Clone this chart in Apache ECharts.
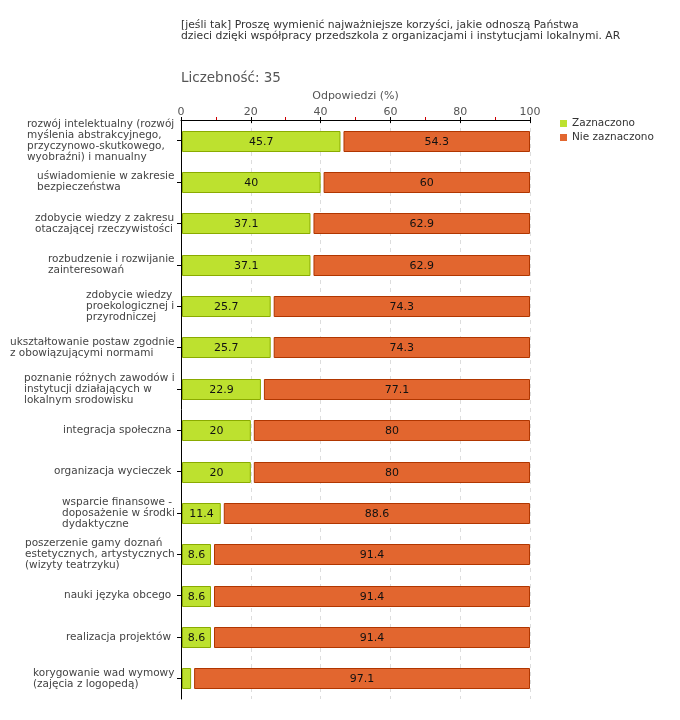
<!DOCTYPE html>
<html><head><meta charset="utf-8">
<script src="https://cdn.jsdelivr.net/npm/echarts@6/dist/echarts.min.js"></script>
<style>html,body{margin:0;padding:0;background:#fff}#c{width:680px;height:720px}</style>
</head><body><div id="c"></div>
<script>
var categories = [
  "rozwój intelektualny (rozwój\nmyślenia abstrakcyjnego,\nprzyczynowo-skutkowego,\nwyobraźni) i manualny",
  "uświadomienie w zakresie\nbezpieczeństwa",
  "zdobycie wiedzy z zakresu\notaczającej rzeczywistości",
  "rozbudzenie i rozwijanie\nzainteresowań",
  "zdobycie wiedzy\nproekologicznej i\nprzyrodniczej",
  "ukształtowanie postaw zgodnie\nz obowiązującymi normami",
  "poznanie różnych zawodów i\ninstytucji działających w\nlokalnym srodowisku",
  "integracja społeczna ",
  "organizacja wycieczek ",
  "wsparcie finansowe -\ndoposażenie w środki\ndydaktyczne",
  "poszerzenie gamy doznań\nestetycznych, artystycznych\n(wizyty teatrzyku)",
  "nauki języka obcego ",
  "realizacja projektów ",
  "korygowanie wad wymowy\n(zajęcia z logopedą)"
];
var zaznaczono = [45.7, 40, 37.1, 37.1, 25.7, 25.7, 22.9, 20, 20, 11.4, 8.6, 8.6, 8.6, 2.9];
var nieZaznaczono = [54.3, 60, 62.9, 62.9, 74.3, 74.3, 77.1, 80, 80, 88.6, 91.4, 91.4, 91.4, 97.1];
var xTicks = [0, 20, 40, 60, 80, 100];
var seriesNames = ["Zaznaczono", "Nie zaznaczono"];

var FONT = "DejaVu Sans";
var CAT_FS = 10.5;
var colors = [{fill: "#bde12f", stroke: "#8aab00"}, {fill: "#e2662f", stroke: "#b03600"}];

var greenData = zaznaczono.map(function(v, i){ return [i, 0, v]; });
var orangeData = nieZaznaczono.map(function(v, i){ return [i, zaznaczono[i], zaznaczono[i] + v]; });

// rich styles: each label block right-aligned at the axis, its lines left-aligned
var mctx = document.createElement("canvas").getContext("2d");
mctx.font = CAT_FS + "px '" + FONT + "'";
var rich = {};
categories.forEach(function(c, i){
  var w = 0;
  c.split("\n").forEach(function(l){ w = Math.max(w, mctx.measureText(l).width); });
  rich["r" + i] = {width: Math.ceil(w), align: "left", fontSize: CAT_FS, lineHeight: 11, color: "#444", fontFamily: FONT};
});

function makeRender(idx){
  return function(params, api){
    var cat = api.value(0), s = api.value(1), e = api.value(2);
    var p0 = api.coord([s, cat]), p1 = api.coord([e, cat]);
    var h = 20;
    var x0 = p0[0] + (idx === 0 ? 1.5 : 3.5);
    var x1 = p1[0] - 0.5;
    var y0 = Math.round(p0[1] - h / 2) + 0.5;
    var val = e - s;
    var children = [{
      type: "rect",
      shape: {x: x0, y: y0, width: x1 - x0, height: h},
      style: {fill: colors[idx].fill, stroke: colors[idx].stroke, lineWidth: 1}
    }];
    if (val >= 5) {
      children.push({
        type: "text",
        style: {text: String(val.toFixed(1)).replace(/\.0$/, ""), x: (x0 + x1) / 2, y: y0 + h / 2 + 1,
          textAlign: "center", textVerticalAlign: "middle", fill: "#111", font: "11px '" + FONT + "'"}
      });
    }
    return {type: "group", children: children};
  };
}

var chart = echarts.init(document.getElementById("c"), null, {renderer: "canvas"});
chart.setOption({
  animation: false,
  textStyle: {fontFamily: FONT},
  title: [
    {text: "[jeśli tak] Proszę wymienić najważniejsze korzyści, jakie odnoszą Państwa\ndzieci dzięki współpracy przedszkola z organizacjami i instytucjami lokalnymi. AR",
     left: 176, top: 15, textStyle: {fontSize: 10.8, fontWeight: "normal", color: "#333", lineHeight: 11, fontFamily: FONT}},
    {text: "Liczebność: 35", left: 176, top: 66, textStyle: {fontSize: 13.5, fontWeight: "normal", color: "#555", fontFamily: FONT}}
  ],
  legend: {
    orient: "vertical", left: 555, top: 113, itemWidth: 7, itemHeight: 7, itemGap: 3, icon: "rect",
    textStyle: {fontSize: 10.5, color: "#333", fontFamily: FONT},
    data: seriesNames
  },
  grid: {left: 181, top: 120, width: 349, height: 579, containLabel: false},
  xAxis: [{
    type: "value", position: "top", min: 0, max: 100, interval: 20,
    name: "Odpowiedzi (%)", nameLocation: "middle", nameGap: 17,
    nameTextStyle: {fontSize: 11, color: "#555", fontFamily: FONT},
    axisLine: {show: true, lineStyle: {color: "#000", width: 1}},
    axisTick: {show: true, length: 3, lineStyle: {color: "#000"}},
    minorTick: {show: true, splitNumber: 2, length: 3, lineStyle: {color: "#d00000"}},
    axisLabel: {fontSize: 11, color: "#555", margin: 2, fontFamily: FONT,
      formatter: function(v){ return xTicks.indexOf(v) >= 0 ? String(v) : ""; }},
    splitLine: {show: true, lineStyle: {color: "#dddddd", type: [4, 4], width: 1}}
  }, {
    type: "value", position: "top", min: 0, max: 100, interval: 20,
    axisLine: {show: false}, axisLabel: {show: false}, splitLine: {show: false},
    axisTick: {show: true, inside: true, length: 3, lineStyle: {color: "#000"}}
  }],
  yAxis: {
    type: "category", inverse: true, data: categories,
    axisLine: {show: true, lineStyle: {color: "#000", width: 1}},
    axisTick: {show: true, alignWithLabel: true, length: 4, lineStyle: {color: "#000"}},
    axisLabel: {fontSize: CAT_FS, color: "#444", lineHeight: 11, margin: 6, interval: 0, fontFamily: FONT, rich: rich,
      formatter: function(v, i){ return v.split("\n").map(function(l){ return "{r" + i + "|" + l + "}"; }).join("\n"); }},
    splitLine: {show: false}
  },
  series: [
    {name: seriesNames[0], type: "custom", renderItem: makeRender(0), data: greenData,
     encode: {x: [1, 2], y: 0}, itemStyle: {color: colors[0].fill}},
    {name: seriesNames[1], type: "custom", renderItem: makeRender(1), data: orangeData,
     encode: {x: [1, 2], y: 0}, itemStyle: {color: colors[1].fill}}
  ]
});
</script></body></html>
